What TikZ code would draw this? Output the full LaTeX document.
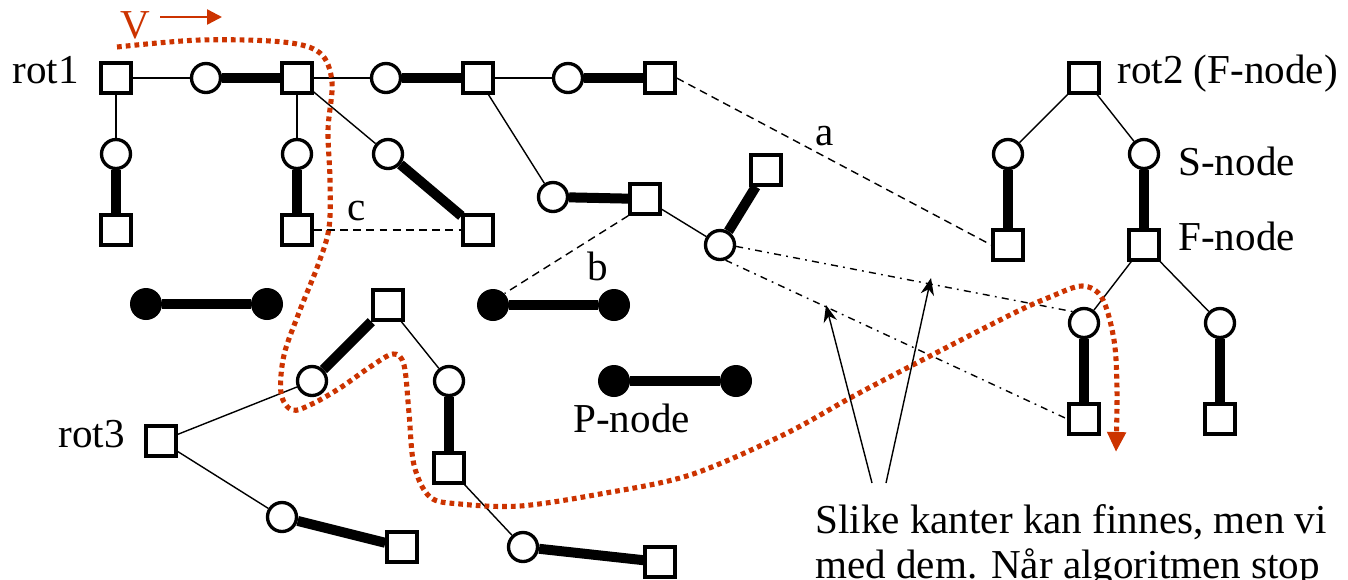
\documentclass[tikz,border=0pt]{standalone}
\usepackage{fontspec}
\setmainfont{Liberation Serif}
\usetikzlibrary{arrows.meta,positioning}
\definecolor{vred}{HTML}{CC3300}

\begin{document}
\begin{tikzpicture}[x=0.02cm, y=-0.02cm, font=\fontsize{23.4}{28}\selectfont, >=Stealth,
  sq/.style={draw, line width=1.9pt, fill=white, minimum size=0.6cm, inner sep=0pt},
  ci/.style={draw, circle, line width=1.9pt, fill=white, minimum size=0.58cm, inner sep=0pt},
  pn/.style={circle, fill=black, minimum size=0.64cm, inner sep=0pt},
  lt/.style={line width=0.8pt},
  hv/.style={line width=0.2cm},
  cross/.style={line width=0.8pt, dash pattern=on 4.5pt off 3pt},
  back/.style={line width=0.8pt, dash pattern=on 4pt off 3pt on 1pt off 3pt},
  tour/.style={vred, line width=2.9pt, dash pattern=on 2.7pt off 2.3pt},
  lbl/.style={inner sep=0pt}]
\useasboundingbox (0,0) rectangle (1348,579);

% F-nodes (squares) and S-nodes (circles)
\foreach \n/\x/\y in {r1/116/78, f1/297/78, f2/478/78, f3/660/78, g1/116/230, g2/297/230,
    g3/478/230, g4/645/199, g5/766/170, r2/1084/78, h1/1008/245, h2/1144/245, h3/1084/419,
    h4/1220/419, r3/161/441, e1/388/305, e2/449/468, e3/660/562, e4/402/547}
  \node[sq] (\n) at (\x,\y) {};
\foreach \n/\x/\y in {a1/206/78, a2/386/78, a3/568/78, b1/116/154, b2/297/154, b3/388/154,
    b4/553/197, b5/720/245, c1/1008/154, c2/1144/154, c3/1084/323, c4/1220/323,
    d1/312/381, d2/449/381, d3/523/547, d4/282/517}
  \node[ci] (\n) at (\x,\y) {};
% P-nodes
\foreach \n/\x/\y in {p1/146/304, p2/267/304, p3/493/305, p4/614/305, p5/614/381, p6/736/381}
  \node[pn] (\n) at (\x,\y) {};

\foreach \a/\b in {r1/a1, f1/a2, f2/a3, r1/b1, f1/b2, f1/b3, f2/b4, g4/b5,
    r2/c1, r2/c2, h2/c3, h2/c4, r3/d1, e1/d2, e2/d3, r3/d4}
  \draw[lt] (\a) -- (\b);
\foreach \a/\b in {a1/f1, a2/f2, a3/f3, b1/g1, b2/g2, b3/g3, b4/g4, b5/g5,
    c1/h1, c2/h2, c3/h3, c4/h4, d1/e1, d2/e2, d3/e3, d4/e4, p1/p2, p3/p4, p5/p6}
  \draw[hv] (\a) -- (\b);

% cross edges
\draw[cross] (f3.east) -- (h1.west);
\draw[cross] (g2.east) -- (g3.west);
\draw[cross] (g4.south west) -- (p3.45);
\draw[back] (b5.-5) -- (c3.north west);
\draw[back] (b5.-70) -- (h3.west);
\node[lbl, anchor=base] (la) at (825,145) {a};
\node[lbl, anchor=base] (lb) at (598,280) {b};
\node[lbl, anchor=base] (lc) at (357,220) {c};

% labels
\node[lbl, anchor=base east] (n1) at (79,83) {rot1};
\node[lbl, anchor=base west] (n2) at (1117,83) {rot2 (F-node)};
\node[lbl, anchor=base west] (n3) at (1178,175) {S-node};
\node[lbl, anchor=base west] (n4) at (1178,250) {F-node};
\node[lbl, anchor=base east] (n5) at (125,447) {rot3};
\node[lbl, anchor=base west] (n6) at (573,432) {P-node};

% the tour V
\node[lbl, anchor=base west, text=vred] (V) at (120,38) {V};
\coordinate (v0) at (160,17);
\coordinate (v1) at (222,17);
\draw[vred, line width=1.4pt, -{Triangle[length=0.3cm,width=0.3cm]}] (v0) -- (v1);
\draw[tour, -{Triangle[length=0.4cm,width=0.36cm]}] plot[smooth, tension=0.55] coordinates {
  (117,47) (200,40) (283,42) (320,53) (332,82) (328,130) (330,180) (329,228) (318,265)
  (300,310) (284,355) (281,393) (292,410) (312,404) (340,388) (370,367) (393,354)
  (404,365) (409,413) (414,465) (430,497) (460,504) (520,506) (600,494) (690,475)
  (783,435) (850,398) (905,369) (1010,315) (1050,297) (1082,286) (1102,298) (1114,340)
  (1117,390) (1116,452)};

% note with arrows to the back edges
\node[lbl, anchor=base west] (t1) at (815,533) {Slike kanter kan finnes, men vi};
\node[lbl, anchor=base west] (t2) at (815,578) {med dem. Når algoritmen stop};
\coordinate (s1) at (872,483);
\coordinate (s2) at (886,483);
\coordinate (k1) at (826,305);
\coordinate (k2) at (931,278);
\draw[lt, -{Stealth[length=0.34cm,width=0.27cm]}] (s1) -- (k1);
\draw[lt, -{Stealth[length=0.34cm,width=0.27cm]}] (s2) -- (k2);
\end{tikzpicture}
\end{document}
